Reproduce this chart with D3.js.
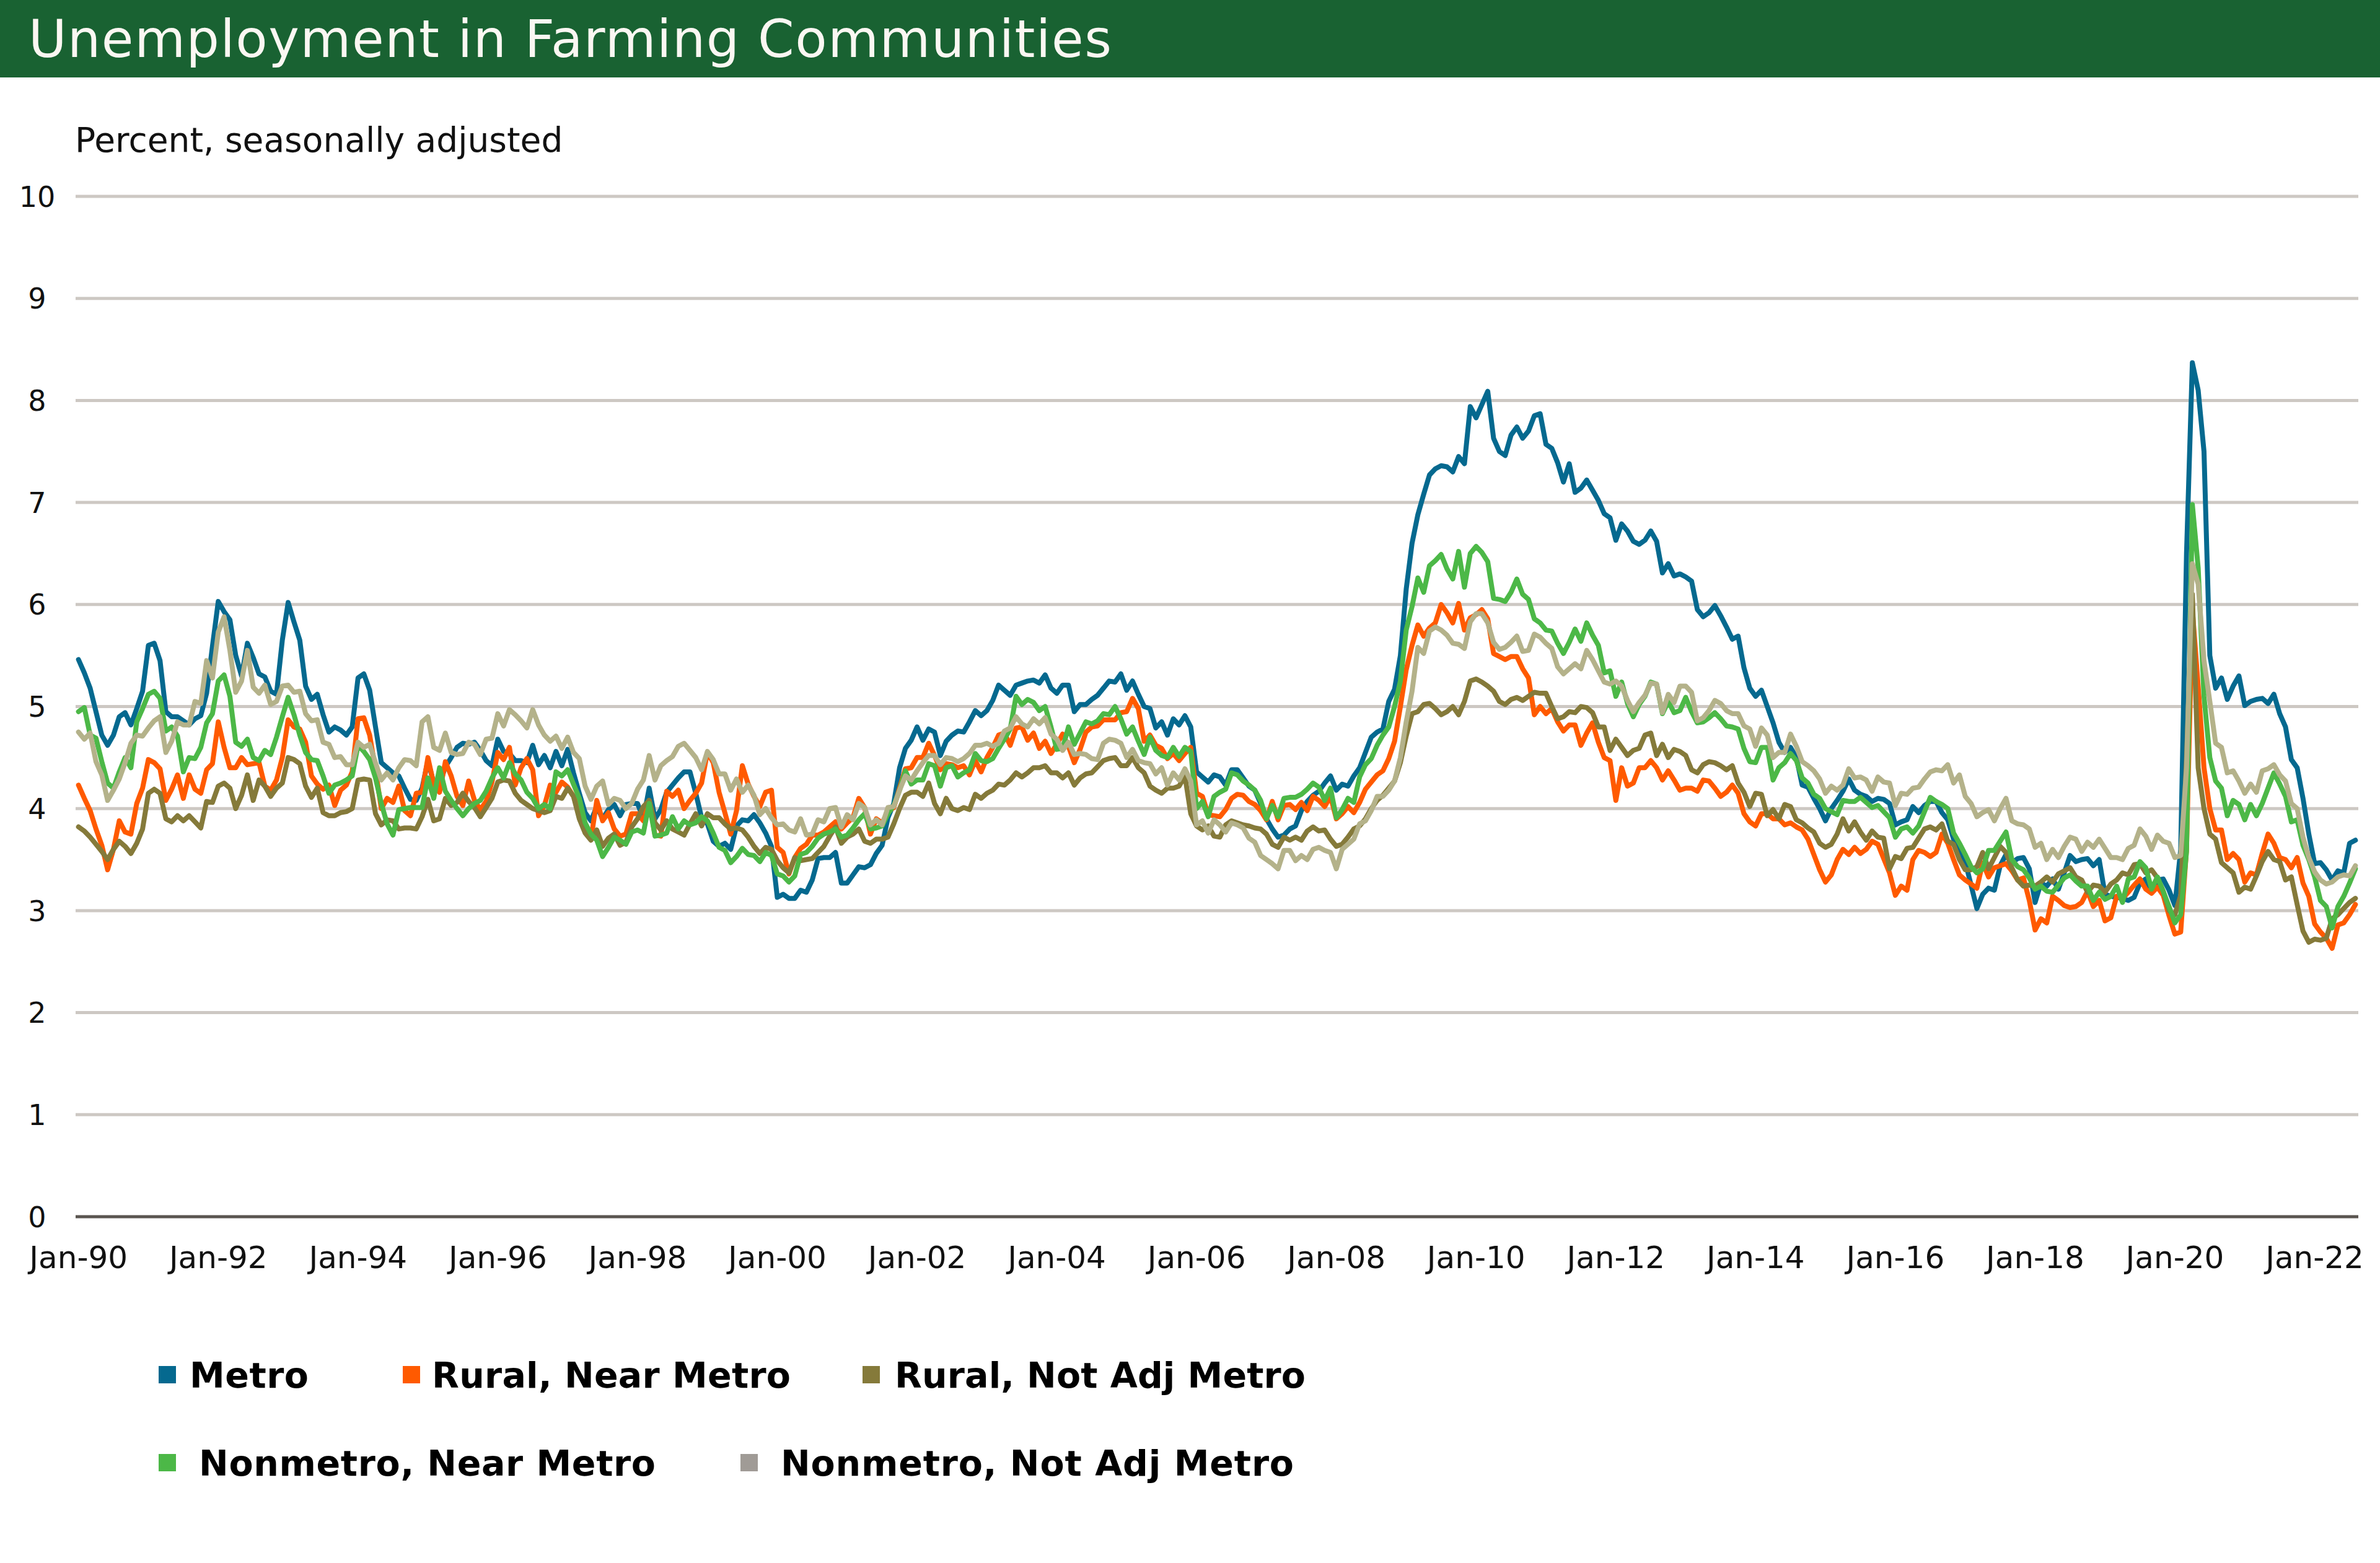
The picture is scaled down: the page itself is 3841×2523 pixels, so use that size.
<!DOCTYPE html>
<html><head><meta charset="utf-8">
<script src="https://cdn.jsdelivr.net/npm/d3@7"></script>
<style>
body{margin:0;background:#fff}
svg{display:block}
text{font-family:"DejaVu Sans",sans-serif}
</style>
</head><body>
<svg id="chart" width="3841" height="2523"></svg>
<script>
// ---------------- DATA (monthly, Jan 1990 onward) ----------------
const startYear = 1990;
const seriesNames = ["Metro","Rural, Near Metro","Rural, Not Adj Metro","Nonmetro, Near Metro","Nonmetro, Not Adj Metro"];
const tickLabels = ["Jan-90","Jan-92","Jan-94","Jan-96","Jan-98","Jan-00","Jan-02","Jan-04","Jan-06","Jan-08","Jan-10","Jan-12","Jan-14","Jan-16","Jan-18","Jan-20","Jan-22"];
const yTicks = [0,1,2,3,4,5,6,7,8,9,10];

const metro = [
5.46,5.33,5.18,4.95,4.72,4.62,4.72,4.9,4.94,4.82,4.98,5.15,5.6,5.62,5.45,4.95,4.9,4.9,4.86,4.82,4.88,4.91,5.13,5.59,6.03,5.93,5.85,5.5,5.3,5.62,5.48,5.32,5.29,5.15,5.12,5.65,6.02,5.83,5.65,5.2,5.07,5.12,4.92,4.75,4.8,
4.77,4.72,4.8,5.28,5.32,5.16,4.8,4.45,4.4,4.35,4.32,4.2,4.09,4.08,4.2,4.47,4.25,4.24,4.41,4.5,4.6,4.64,4.63,4.65,4.57,4.47,4.42,4.68,4.56,4.54,4.47,4.47,4.45,4.62,4.43,4.52,4.4,4.56,4.42,4.58,4.35,4.15,3.96,
3.88,4.02,3.9,3.99,4.04,3.93,4.04,4.05,4.05,3.9,4.2,3.9,3.99,4.16,4.23,4.3,4.36,4.36,4.15,3.91,3.85,3.68,3.63,3.66,3.6,3.83,3.89,3.88,3.94,3.86,3.76,3.63,3.13,3.16,3.12,3.12,3.2,3.18,3.3,3.51,3.52,3.52,3.57,3.27,
3.27,3.35,3.43,3.42,3.45,3.56,3.64,3.91,4.05,4.4,4.59,4.67,4.8,4.67,4.78,4.75,4.52,4.66,4.72,4.76,4.75,4.85,4.96,4.91,4.96,5.06,5.21,5.16,5.11,5.21,5.23,5.25,5.26,5.23,5.31,5.18,5.13,5.21,5.21,4.95,5.02,5.02,5.07,5.11,
5.18,5.25,5.24,5.32,5.16,5.25,5.12,5.0,4.98,4.79,4.85,4.72,4.88,4.82,4.91,4.8,4.36,4.31,4.26,4.33,4.31,4.23,4.38,4.38,4.3,4.22,4.18,4.05,3.9,3.8,3.72,3.74,3.8,3.83,3.98,4.07,4.13,4.17,4.25,4.32,4.18,4.24,4.22,
4.32,4.4,4.55,4.7,4.75,4.78,5.05,5.17,5.5,6.15,6.6,6.88,7.08,7.27,7.33,7.36,7.35,7.3,7.45,7.38,7.94,7.83,7.96,8.09,7.63,7.5,7.46,7.66,7.74,7.63,7.7,7.85,7.87,7.57,7.53,7.39,7.2,7.38,7.1,7.14,7.22,7.12,7.02,6.89,
6.85,6.63,6.79,6.72,6.62,6.59,6.63,6.72,6.62,6.31,6.4,6.28,6.3,6.27,6.23,5.95,5.88,5.92,5.99,5.89,5.78,5.66,5.69,5.38,5.18,5.1,5.16,5.0,4.84,4.65,4.55,4.6,4.5,4.23,4.21,4.1,4.0,3.88,4.0,4.08,4.17,4.29,4.18,
4.14,4.12,4.07,4.1,4.09,4.05,3.84,3.87,3.89,4.02,3.96,4.03,4.07,4.07,3.96,3.89,3.7,3.62,3.48,3.25,3.02,3.16,3.22,3.2,3.44,3.55,3.47,3.51,3.52,3.41,3.08,3.27,3.24,3.31,3.21,3.37,3.54,3.48,3.5,3.51,3.44,3.5,3.16,3.14,
3.13,3.12,3.1,3.13,3.27,3.31,3.18,3.3,3.31,3.2,3.05,3.6,6.5,8.37,8.1,7.5,5.5,5.18,5.28,5.07,5.2,5.3,5.01,5.05,5.07,5.08,5.03,5.12,4.93,4.8,4.48,4.4,4.1,3.75,3.46,3.47,3.4,3.3,3.39,3.37,3.66,3.69];

const ruralNear = [
4.23,4.1,3.98,3.8,3.64,3.4,3.6,3.88,3.77,3.75,4.05,4.2,4.48,4.45,4.39,4.08,4.19,4.33,4.1,4.33,4.19,4.15,4.38,4.44,4.85,4.6,4.4,4.4,4.5,4.43,4.44,4.45,4.22,4.18,4.28,4.5,4.87,4.8,4.78,4.65,4.32,4.24,4.19,4.23,4.03,
4.18,4.23,4.36,4.88,4.89,4.72,4.38,4.0,4.1,4.06,4.22,3.98,3.93,4.15,4.16,4.5,4.24,4.16,4.46,4.32,4.12,4.03,4.27,4.08,3.99,4.07,4.26,4.55,4.48,4.6,4.23,4.4,4.49,4.38,3.93,4.03,4.23,4.16,4.26,4.21,4.12,4.02,3.78,
3.7,4.08,3.88,3.96,3.8,3.73,3.75,3.95,3.95,3.88,4.08,3.74,3.73,4.17,4.12,4.18,4.0,4.08,4.15,4.25,4.55,4.45,4.16,3.96,3.75,3.98,4.42,4.24,4.12,4.02,4.16,4.18,3.62,3.57,3.36,3.52,3.61,3.65,3.74,3.74,3.77,3.82,3.87,3.8,
3.86,3.91,4.1,4.01,3.75,3.9,3.86,3.97,4.01,4.2,4.39,4.4,4.5,4.5,4.64,4.52,4.38,4.44,4.43,4.4,4.42,4.33,4.47,4.36,4.5,4.6,4.72,4.74,4.62,4.79,4.8,4.67,4.74,4.59,4.66,4.54,4.63,4.73,4.61,4.45,4.58,4.75,4.8,4.81,
4.87,4.87,4.87,4.94,4.95,5.08,4.98,4.66,4.72,4.62,4.59,4.49,4.54,4.47,4.54,4.6,4.15,4.12,3.94,3.93,3.92,3.99,4.1,4.14,4.13,4.07,4.04,3.98,3.89,4.07,3.89,4.03,4.04,3.99,4.06,3.98,4.12,4.08,4.02,4.12,3.9,3.95,4.02,
3.96,4.06,4.19,4.26,4.33,4.37,4.49,4.66,5.0,5.36,5.6,5.8,5.69,5.77,5.82,6.0,5.92,5.82,6.01,5.75,5.87,5.9,5.95,5.86,5.52,5.49,5.46,5.49,5.49,5.37,5.28,4.92,5.0,4.93,4.98,4.85,4.76,4.82,4.82,4.62,4.74,4.84,4.65,4.5,
4.47,4.08,4.4,4.22,4.25,4.4,4.4,4.47,4.4,4.28,4.37,4.28,4.18,4.2,4.2,4.17,4.28,4.27,4.2,4.12,4.16,4.23,4.15,3.95,3.87,3.83,3.95,3.95,3.9,3.9,3.84,3.86,3.82,3.79,3.7,3.55,3.4,3.28,3.35,3.5,3.6,3.55,3.62,
3.56,3.6,3.68,3.65,3.51,3.37,3.15,3.24,3.2,3.5,3.59,3.57,3.53,3.57,3.75,3.66,3.5,3.35,3.3,3.26,3.22,3.47,3.33,3.42,3.44,3.46,3.39,3.3,3.32,3.1,2.81,2.92,2.88,3.14,3.1,3.05,3.03,3.04,3.08,3.19,3.04,3.1,2.9,2.93,
3.14,3.12,3.18,3.25,3.31,3.21,3.17,3.23,3.15,2.95,2.77,2.79,3.6,5.95,5.2,4.4,4.0,3.79,3.79,3.5,3.56,3.5,3.28,3.37,3.35,3.56,3.75,3.66,3.52,3.5,3.42,3.52,3.27,3.14,2.87,2.79,2.73,2.63,2.86,2.88,2.96,3.06];

const ruralNotAdj = [
3.82,3.78,3.72,3.65,3.58,3.5,3.6,3.68,3.63,3.56,3.66,3.8,4.15,4.19,4.15,3.9,3.87,3.93,3.88,3.93,3.87,3.81,4.07,4.06,4.22,4.25,4.2,4.0,4.13,4.33,4.08,4.28,4.22,4.12,4.2,4.25,4.5,4.48,4.44,4.22,4.11,4.2,3.96,3.93,3.93,
3.96,3.97,4.0,4.28,4.29,4.28,3.95,3.84,3.89,3.88,3.8,3.81,3.81,3.8,3.92,4.09,3.88,3.9,4.1,4.03,4.06,4.15,4.07,4.01,3.92,4.01,4.1,4.26,4.28,4.27,4.15,4.08,4.04,4.0,3.98,3.96,3.98,4.12,4.1,4.2,4.12,3.9,3.76,
3.69,3.79,3.63,3.71,3.75,3.64,3.67,3.82,3.9,4.02,4.08,3.86,3.79,3.88,3.8,3.77,3.74,3.85,3.95,3.83,3.95,3.91,3.91,3.85,3.8,3.81,3.79,3.72,3.63,3.56,3.62,3.6,3.49,3.42,3.37,3.52,3.49,3.5,3.51,3.57,3.63,3.73,3.82,3.66,
3.72,3.75,3.8,3.68,3.66,3.7,3.7,3.72,3.85,4.0,4.13,4.16,4.16,4.12,4.25,4.05,3.95,4.1,4.0,3.98,4.01,3.99,4.14,4.1,4.15,4.18,4.24,4.23,4.28,4.35,4.31,4.35,4.4,4.4,4.42,4.35,4.35,4.3,4.35,4.23,4.3,4.34,4.35,4.41,
4.47,4.49,4.5,4.42,4.42,4.5,4.4,4.35,4.22,4.18,4.15,4.2,4.2,4.22,4.32,3.95,3.83,3.79,3.83,3.73,3.72,3.84,3.88,3.86,3.84,3.83,3.81,3.8,3.75,3.65,3.62,3.72,3.69,3.72,3.69,3.78,3.82,3.78,3.79,3.7,3.63,3.65,3.72,
3.8,3.83,3.9,4.0,4.08,4.13,4.2,4.27,4.45,4.71,4.93,4.95,5.02,5.03,4.98,4.92,4.95,5.0,4.92,5.05,5.25,5.27,5.24,5.2,5.15,5.05,5.02,5.07,5.09,5.06,5.1,5.14,5.13,5.13,5.0,4.88,4.9,4.95,4.94,5.0,4.99,4.94,4.8,4.8,
4.57,4.68,4.6,4.52,4.57,4.59,4.72,4.74,4.52,4.63,4.5,4.58,4.56,4.52,4.38,4.35,4.43,4.46,4.45,4.42,4.38,4.42,4.25,4.16,4.02,4.15,4.14,3.93,3.99,3.9,4.04,4.02,3.89,3.86,3.81,3.77,3.66,3.62,3.65,3.75,3.9,3.78,3.87,
3.77,3.69,3.78,3.72,3.71,3.41,3.53,3.51,3.61,3.62,3.71,3.8,3.82,3.79,3.85,3.68,3.65,3.5,3.4,3.4,3.43,3.57,3.41,3.52,3.63,3.57,3.42,3.3,3.24,3.25,3.24,3.28,3.33,3.28,3.36,3.39,3.42,3.33,3.3,3.18,3.25,3.24,3.18,3.26,
3.3,3.37,3.35,3.45,3.46,3.37,3.4,3.32,3.19,3.0,2.96,3.15,4.5,6.1,4.4,4.0,3.75,3.7,3.47,3.42,3.37,3.18,3.23,3.21,3.34,3.48,3.58,3.5,3.48,3.3,3.33,3.06,2.8,2.69,2.72,2.71,2.73,2.92,2.96,3.02,3.08,3.12];

const nonmetroNear = [
4.95,4.99,4.72,4.69,4.46,4.25,4.2,4.36,4.5,4.4,4.85,4.98,5.12,5.15,5.08,4.76,4.8,4.71,4.36,4.5,4.49,4.6,4.84,4.93,5.25,5.31,5.1,4.65,4.61,4.68,4.5,4.47,4.57,4.53,4.7,4.9,5.09,4.92,4.72,4.55,4.48,4.47,4.32,4.15,4.23,
4.25,4.28,4.32,4.62,4.56,4.48,4.3,4.05,3.85,3.74,3.99,4.0,4.01,4.01,4.01,4.3,4.1,4.4,4.17,4.08,4.0,3.93,4.0,4.05,4.08,4.17,4.3,4.4,4.3,4.45,4.34,4.28,4.16,4.1,4.0,4.04,4.0,4.36,4.32,4.38,4.24,4.1,3.86,
3.75,3.69,3.53,3.62,3.72,3.69,3.65,3.77,3.79,3.76,4.05,3.73,3.74,3.76,3.92,3.8,3.88,3.84,3.86,3.92,3.88,3.76,3.62,3.59,3.47,3.53,3.61,3.55,3.54,3.48,3.57,3.54,3.36,3.34,3.28,3.34,3.55,3.57,3.63,3.71,3.75,3.77,3.8,3.72,
3.74,3.81,3.89,3.95,3.8,3.81,3.83,3.95,4.03,4.18,4.37,4.24,4.28,4.28,4.44,4.42,4.22,4.4,4.42,4.31,4.35,4.38,4.54,4.47,4.46,4.49,4.59,4.68,4.78,5.1,5.02,5.07,5.04,4.96,5.0,4.8,4.58,4.59,4.8,4.63,4.74,4.85,4.83,4.86,
4.93,4.92,5.0,4.88,4.73,4.8,4.66,4.53,4.7,4.57,4.52,4.5,4.6,4.51,4.6,4.56,4.0,4.07,3.92,4.12,4.16,4.19,4.35,4.33,4.27,4.23,4.18,4.08,3.9,4.03,3.92,4.1,4.11,4.11,4.14,4.19,4.25,4.21,4.08,4.2,3.91,3.99,4.1,
4.06,4.31,4.43,4.49,4.62,4.72,4.8,5.0,5.25,5.75,5.98,6.26,6.12,6.38,6.43,6.49,6.35,6.25,6.52,6.17,6.5,6.57,6.51,6.42,6.06,6.05,6.03,6.12,6.25,6.1,6.05,5.86,5.82,5.75,5.74,5.62,5.52,5.63,5.76,5.64,5.82,5.7,5.6,5.33,
5.35,5.1,5.24,5.03,4.9,5.02,5.1,5.24,5.22,4.93,5.05,4.94,4.96,5.09,4.95,4.84,4.85,4.89,4.94,4.88,4.81,4.8,4.78,4.59,4.46,4.45,4.6,4.6,4.28,4.4,4.45,4.54,4.47,4.3,4.25,4.14,4.1,4.0,3.97,3.94,4.08,4.07,4.07,
4.11,4.06,4.01,4.03,3.97,3.91,3.72,3.8,3.82,3.76,3.83,3.97,4.11,4.07,4.04,4.0,3.76,3.66,3.55,3.43,3.37,3.41,3.59,3.59,3.68,3.77,3.5,3.43,3.4,3.32,3.21,3.24,3.19,3.18,3.25,3.32,3.35,3.29,3.24,3.24,3.1,3.18,3.11,3.14,
3.24,3.08,3.31,3.33,3.48,3.42,3.21,3.33,3.19,3.04,2.88,2.96,3.58,6.98,6.36,5.1,4.5,4.27,4.2,3.93,4.08,4.04,3.89,4.04,3.93,4.05,4.2,4.35,4.24,4.12,3.87,3.89,3.64,3.5,3.33,3.1,3.04,2.83,3.04,3.14,3.27,3.41];

const nonmetroNotAdj = [
4.75,4.68,4.74,4.46,4.33,4.08,4.18,4.29,4.45,4.64,4.72,4.71,4.79,4.86,4.9,4.55,4.66,4.85,4.82,4.82,5.05,5.03,5.45,5.28,5.73,5.88,5.55,5.14,5.25,5.55,5.19,5.13,5.21,5.02,5.05,5.2,5.21,5.14,5.15,4.93,4.86,4.87,4.65,4.63,4.5,
4.51,4.43,4.43,4.65,4.6,4.63,4.45,4.28,4.35,4.28,4.4,4.48,4.47,4.42,4.85,4.9,4.6,4.57,4.74,4.55,4.53,4.54,4.65,4.63,4.53,4.68,4.69,4.93,4.81,4.97,4.92,4.86,4.79,4.97,4.82,4.72,4.66,4.71,4.59,4.7,4.55,4.49,4.22,
4.09,4.22,4.27,4.04,4.1,4.08,4.0,4.05,4.19,4.28,4.52,4.28,4.42,4.47,4.51,4.61,4.64,4.57,4.5,4.38,4.56,4.48,4.34,4.34,4.18,4.29,4.16,4.23,4.13,3.94,4.0,3.91,3.84,3.85,3.79,3.77,3.9,3.74,3.75,3.89,3.87,4.0,4.01,3.82,
3.94,3.89,4.05,4.01,3.84,3.89,3.84,4.01,4.02,4.18,4.32,4.28,4.37,4.45,4.52,4.52,4.43,4.5,4.49,4.46,4.49,4.54,4.62,4.62,4.64,4.61,4.64,4.76,4.79,4.9,4.83,4.8,4.88,4.83,4.89,4.73,4.68,4.57,4.65,4.53,4.54,4.53,4.49,4.48,
4.64,4.68,4.67,4.64,4.5,4.58,4.47,4.45,4.44,4.34,4.4,4.23,4.35,4.28,4.39,4.27,3.84,3.88,3.76,3.89,3.84,3.77,3.86,3.84,3.81,3.71,3.67,3.54,3.5,3.46,3.41,3.59,3.59,3.49,3.54,3.5,3.6,3.62,3.59,3.57,3.41,3.6,3.65,
3.7,3.85,3.88,3.98,4.12,4.12,4.18,4.27,4.5,4.85,5.15,5.58,5.52,5.74,5.78,5.75,5.7,5.62,5.61,5.57,5.83,5.91,5.91,5.82,5.63,5.56,5.58,5.63,5.69,5.54,5.55,5.71,5.68,5.62,5.57,5.39,5.32,5.37,5.42,5.37,5.55,5.46,5.35,5.24,
5.22,5.25,5.2,5.06,4.95,5.04,5.11,5.23,5.22,4.94,5.12,5.04,5.2,5.2,5.14,4.86,4.89,4.96,5.06,5.03,4.96,4.93,4.93,4.81,4.78,4.61,4.79,4.72,4.5,4.55,4.55,4.73,4.61,4.46,4.42,4.37,4.29,4.15,4.22,4.18,4.23,4.39,4.3,
4.31,4.28,4.17,4.31,4.26,4.25,4.03,4.15,4.14,4.2,4.21,4.29,4.36,4.38,4.37,4.43,4.25,4.33,4.12,4.05,3.92,3.96,3.99,3.88,4.0,4.1,3.88,3.85,3.84,3.8,3.62,3.66,3.5,3.6,3.52,3.63,3.72,3.7,3.58,3.67,3.62,3.7,3.61,3.52,
3.52,3.5,3.61,3.64,3.8,3.73,3.6,3.74,3.68,3.66,3.52,3.54,4.4,6.4,6.2,5.45,5.05,4.64,4.6,4.35,4.37,4.27,4.15,4.24,4.16,4.37,4.39,4.43,4.33,4.27,4.05,4.0,3.72,3.52,3.38,3.3,3.26,3.28,3.33,3.35,3.34,3.44];

const lineColors = ["#05698f","#ff5a00","#857a3a","#4cb847","#b4b28a"];
const legendColors = ["#05698f","#ff5a00","#857a3a","#4cb847","#a09b96"];

// ---------------- CHART ----------------
const svg = d3.select("#chart");
const W = 3841, H = 2523;
const plot = {left:122, right:3806, top:317, bottom:1964};

svg.append("rect").attr("x",0).attr("y",0).attr("width",W).attr("height",H).attr("fill","#fff");
svg.append("rect").attr("x",0).attr("y",0).attr("width",W).attr("height",125).attr("fill","#196232");
svg.append("text").attr("x",46).attr("y",92).attr("fill","#fbf7f2")
  .attr("font-size",84).attr("textLength",1748).attr("lengthAdjust","spacing")
  .text("Unemployment in Farming Communities");
svg.append("text").attr("x",121).attr("y",245).attr("fill","#111")
  .attr("font-size",55).text("Percent, seasonally adjusted");

const allSeries = [metro, ruralNear, ruralNotAdj, nonmetroNear, nonmetroNotAdj];
const N = d3.max(allSeries, s => s.length);
const months = d3.range(N).map(i => {
  const m = ["Jan","Feb","Mar","Apr","May","Jun","Jul","Aug","Sep","Oct","Nov","Dec"][i%12];
  const yy = String((startYear + Math.floor(i/12)) % 100).padStart(2,"0");
  return m + "-" + yy;
});

const x = d3.scaleBand().domain(months).range([plot.left, plot.right]);
const xc = d => x(d) + x.bandwidth()/2;
const y = d3.scaleLinear().domain([0,10]).range([plot.bottom, plot.top]);

// gridlines
const grid = svg.append("g");
grid.selectAll("line").data(yTicks.filter(t => t > 0)).join("line")
  .attr("x1",plot.left).attr("x2",plot.right)
  .attr("y1",d => y(d)).attr("y2",d => y(d))
  .attr("stroke","#cdc8c3").attr("stroke-width",5);
svg.append("line").attr("x1",plot.left).attr("x2",plot.right)
  .attr("y1",y(0)).attr("y2",y(0)).attr("stroke","#5a5550").attr("stroke-width",5);

// y axis labels
const yAxis = d3.axisLeft(y).tickValues(yTicks).tickSize(0).tickPadding(0).tickFormat(d3.format("d"));
const gy = svg.append("g").attr("transform","translate(60,0)").call(yAxis);
gy.select(".domain").remove();
gy.selectAll("text").attr("font-size",46).attr("fill","#111").attr("text-anchor","middle")
  .attr("font-family","DejaVu Sans").attr("dy","0.35em").attr("x",0);

// x axis labels
const tickSet = new Set(tickLabels);
const xAxis = d3.axisBottom(x).tickValues(months.filter(m => tickSet.has(m))).tickSize(0).tickPadding(0);
const gx = svg.append("g").attr("transform",`translate(0,${plot.bottom})`).call(xAxis);
gx.select(".domain").remove();
gx.selectAll("text").attr("font-size",50).attr("fill","#111").attr("font-family","DejaVu Sans")
  .attr("dy",0).attr("y",83);

// lines
const line = d3.line().x((d,i) => xc(months[i])).y(d => y(d));
svg.append("g").selectAll("path").data(allSeries).join("path")
  .attr("d", d => line(d))
  .attr("fill","none")
  .attr("stroke",(d,i) => lineColors[i])
  .attr("stroke-width",8)
  .attr("stroke-linejoin","round")
  .attr("stroke-linecap","round");

// legend
const legendPos = [
  {sx:256, tx:306, cy:2219, w:192},
  {sx:650, tx:697, cy:2219, w:579},
  {sx:1392, tx:1444, cy:2219, w:663},
  {sx:256, tx:321, cy:2361, w:737},
  {sx:1195, tx:1260, cy:2361, w:828}
];
const lg = svg.append("g");
seriesNames.forEach((name,i) => {
  const p = legendPos[i];
  lg.append("rect").attr("x",p.sx).attr("y",p.cy-14).attr("width",28).attr("height",28).attr("fill",legendColors[i]);
  lg.append("text").attr("x",p.tx).attr("y",p.cy+21).attr("font-size",57).attr("font-weight","bold")
    .attr("fill","#000").attr("textLength",p.w).attr("lengthAdjust","spacing").text(name);
});
</script>
</body></html>
